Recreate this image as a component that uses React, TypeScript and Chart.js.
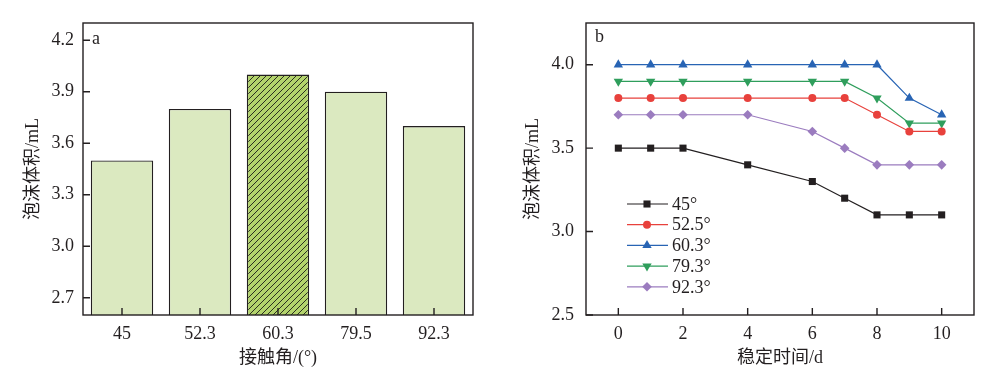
import React, { useEffect, useRef } from 'react';
import { Chart, registerables } from 'chart.js';
import { drawPoint } from 'chart.js/helpers';

Chart.register(...registerables);

// Panel a
const barCategories = ['45', '52.3', '60.3', '79.5', '92.3'];
const barValues = [3.5, 3.8, 4.0, 3.9, 3.7];
const barYTicks = [2.7, 3.0, 3.3, 3.6, 3.9, 4.2];

// Panel b
const days = [0, 1, 2, 4, 6, 7, 8, 9, 10];
const series45 = [3.5, 3.5, 3.5, 3.4, 3.3, 3.2, 3.1, 3.1, 3.1];
const series525 = [3.8, 3.8, 3.8, 3.8, 3.8, 3.8, 3.7, 3.6, 3.6];
const series603 = [4.0, 4.0, 4.0, 4.0, 4.0, 4.0, 4.0, 3.8, 3.7];
const series793 = [3.9, 3.9, 3.9, 3.9, 3.9, 3.9, 3.8, 3.65, 3.65];
const series923 = [3.7, 3.7, 3.7, 3.7, 3.6, 3.5, 3.4, 3.4, 3.4];
const seriesLabels = ['45°', '52.5°', '60.3°', '79.3°', '92.3°'];
const lineXTicks = [0, 2, 4, 6, 8, 10];
const lineYTicks = [2.5, 3.0, 3.5, 4.0];

const INK = '#231f20';
const FONT = '"Liberation Serif", "Noto Sans CJK SC", serif';
const FS = 18;

const frameTicksPlugin = {
  id: 'frameTicks',
  afterDraw(chart: any, _args: any, opts: any) {
    const { ctx, chartArea: a } = chart;
    const xs = chart.scales.x;
    const ys = chart.scales.y;
    ctx.save();
    ctx.strokeStyle = INK;
    ctx.lineWidth = 1.4;
    ctx.strokeRect(a.left, a.top, a.right - a.left, a.bottom - a.top);
    ctx.beginPath();
    const len = 7;
    xs.ticks.forEach((_t: any, i: number) => {
      const px = xs.getPixelForTick(i);
      ctx.moveTo(px, a.bottom);
      ctx.lineTo(px, a.bottom - len);
    });
    ys.ticks.forEach((_t: any, i: number) => {
      const py = ys.getPixelForTick(i);
      ctx.moveTo(a.left, py);
      ctx.lineTo(a.left + len, py);
    });
    ctx.stroke();
    ctx.fillStyle = INK;
    ctx.font = FS + 'px ' + FONT;
    ctx.textBaseline = 'middle';
    ctx.textAlign = 'left';
    ctx.fillText(opts.letter, a.left + opts.dx, a.top + opts.dy);
    ctx.restore();
  },
};

const lineLegendPlugin = {
  id: 'lineLegend',
  afterDraw(chart: any) {
    const { ctx, chartArea: a } = chart;
    ctx.save();
    ctx.font = FS + 'px ' + FONT;
    ctx.textBaseline = 'middle';
    ctx.textAlign = 'left';
    chart.data.datasets.forEach((ds: any, i: number) => {
      const y = a.top + 181 + i * 20.7;
      const x0 = a.left + 41;
      ctx.strokeStyle = ds.borderColor;
      ctx.lineWidth = ds.borderWidth;
      ctx.beginPath();
      ctx.moveTo(x0, y);
      ctx.lineTo(x0 + 41, y);
      ctx.stroke();
      ctx.fillStyle = ds.backgroundColor;
      ctx.strokeStyle = ds.backgroundColor;
      drawPoint(ctx, {
        pointStyle: ds.pointStyle,
        rotation: ds.pointRotation || 0,
        radius: ds.pointRadius,
        borderWidth: 0,
      } as any, x0 + 20, y);
      ctx.fillStyle = INK;
      ctx.fillText(ds.label, x0 + 45, y + 1);
    });
    ctx.restore();
  },
};

function makeHatch(ctx: CanvasRenderingContext2D) {
  const c = document.createElement('canvas');
  c.width = 6;
  c.height = 6;
  const g = c.getContext('2d')!;
  g.fillStyle = '#b3d36c';
  g.fillRect(0, 0, 6, 6);
  g.strokeStyle = '#2a2e20';
  g.lineWidth = 1;
  g.beginPath();
  g.moveTo(-1, 7);
  g.lineTo(7, -1);
  g.moveTo(-1, 1);
  g.lineTo(1, -1);
  g.moveTo(5, 7);
  g.lineTo(7, 5);
  g.stroke();
  return ctx.createPattern(c, 'repeat');
}

function titleFont() {
  return { family: FONT, size: FS };
}

function BarPanel() {
  const ref = useRef<HTMLCanvasElement>(null);
  useEffect(() => {
    const canvas = ref.current!;
    const ctx = canvas.getContext('2d')!;
    const hatch = makeHatch(ctx);
    const chart = new Chart(canvas, {
      type: 'bar',
      data: {
        labels: barCategories,
        datasets: [
          {
            data: barValues,
            backgroundColor: barValues.map((_, i) => (i === 2 ? (hatch as any) : '#dbe9c0')),
            borderColor: INK,
            borderWidth: 1.4,
            borderSkipped: false,
            barPercentage: 0.8,
            categoryPercentage: 1,
          },
        ],
      },
      options: {
        responsive: false,
        animation: false,
        devicePixelRatio: 1,
        layout: { padding: { left: 0, right: 27, top: 23, bottom: 0 } },
        plugins: {
          legend: { display: false },
          tooltip: { enabled: false },
          frameTicks: { letter: 'a', dx: 9, dy: 16 },
        } as any,
        scales: {
          x: {
            grid: { display: false, drawTicks: false },
            border: { display: false },
            ticks: { padding: 8, color: INK, font: { family: FONT, size: FS } },
            title: { display: true, text: '接触角/(°)', color: INK, font: titleFont(), padding: { top: 0, bottom: 8 } },
            afterFit(s: any) {
              s.height = 62;
            },
          },
          y: {
            min: 2.6,
            max: 4.3,
            afterBuildTicks(s: any) {
              s.ticks = barYTicks.map((v) => ({ value: v }));
            },
            grid: { display: false, drawTicks: false },
            border: { display: false },
            ticks: {
              padding: 9,
              color: INK,
              font: { family: FONT, size: FS },
              callback: (v: any) => Number(v).toFixed(1),
            },
            title: { display: true, text: '泡沫体积/mL', color: INK, font: titleFont(), padding: { top: 22, bottom: 0 } },
            afterFit(s: any) {
              s.width = 83;
            },
          },
        },
      },
      plugins: [frameTicksPlugin],
    });
    return () => chart.destroy();
  }, []);
  return <canvas ref={ref} width={500} height={377} style={{ position: 'absolute', left: 0, top: 0 }} />;
}

function LinePanel() {
  const ref = useRef<HTMLCanvasElement>(null);
  useEffect(() => {
    const canvas = ref.current!;
    const mk = (label: string, vals: number[], color: string, style: string, radius: number, rot = 0) => ({
      label,
      data: days.map((d, i) => ({ x: d, y: vals[i] })),
      borderColor: color,
      backgroundColor: color,
      borderWidth: 1.2,
      pointStyle: style,
      pointRadius: radius,
      pointRotation: rot,
      pointBorderWidth: 0,
      pointBackgroundColor: color,
    });
    const chart = new Chart(canvas, {
      type: 'line',
      data: {
        datasets: [
          mk(seriesLabels[0], series45, INK, 'rect', 5),
          mk(seriesLabels[1], series525, '#e8413c', 'circle', 4),
          mk(seriesLabels[2], series603, '#2864b4', 'triangle', 5.4),
          mk(seriesLabels[3], series793, '#2f9e5c', 'triangle', 5.4, 180),
          mk(seriesLabels[4], series923, '#9b7cbf', 'rectRot', 4.8),
        ] as any,
      },
      options: {
        responsive: false,
        animation: false,
        devicePixelRatio: 1,
        layout: { padding: { left: 0, right: 25, top: 23, bottom: 0 } },
        plugins: {
          legend: { display: false },
          tooltip: { enabled: false },
          frameTicks: { letter: 'b', dx: 9, dy: 14 },
        } as any,
        scales: {
          x: {
            type: 'linear',
            min: -1,
            max: 11,
            afterBuildTicks(s: any) {
              s.ticks = lineXTicks.map((v) => ({ value: v }));
            },
            grid: { display: false, drawTicks: false },
            border: { display: false },
            ticks: { padding: 8, color: INK, font: { family: FONT, size: FS } },
            title: { display: true, text: '稳定时间/d', color: INK, font: titleFont(), padding: { top: 0, bottom: 8 } },
            afterFit(s: any) {
              s.height = 62;
            },
          },
          y: {
            min: 2.5,
            max: 4.25,
            afterBuildTicks(s: any) {
              s.ticks = lineYTicks.map((v) => ({ value: v }));
            },
            grid: { display: false, drawTicks: false },
            border: { display: false },
            ticks: {
              padding: 12,
              color: INK,
              font: { family: FONT, size: FS },
              callback: (v: any) => Number(v).toFixed(1),
            },
            title: { display: true, text: '泡沫体积/mL', color: INK, font: titleFont(), padding: { top: 22, bottom: 0 } },
            afterFit(s: any) {
              s.width = 86;
            },
          },
        },
      },
      plugins: [frameTicksPlugin, lineLegendPlugin],
    });
    return () => chart.destroy();
  }, []);
  return <canvas ref={ref} width={499} height={377} style={{ position: 'absolute', left: 500, top: 0 }} />;
}

export default function App() {
  return (
    <div style={{ position: 'absolute', left: 0, top: 0, width: 999, height: 377, background: '#fff', overflow: 'hidden' }}>
      <BarPanel />
      <LinePanel />
    </div>
  );
}
